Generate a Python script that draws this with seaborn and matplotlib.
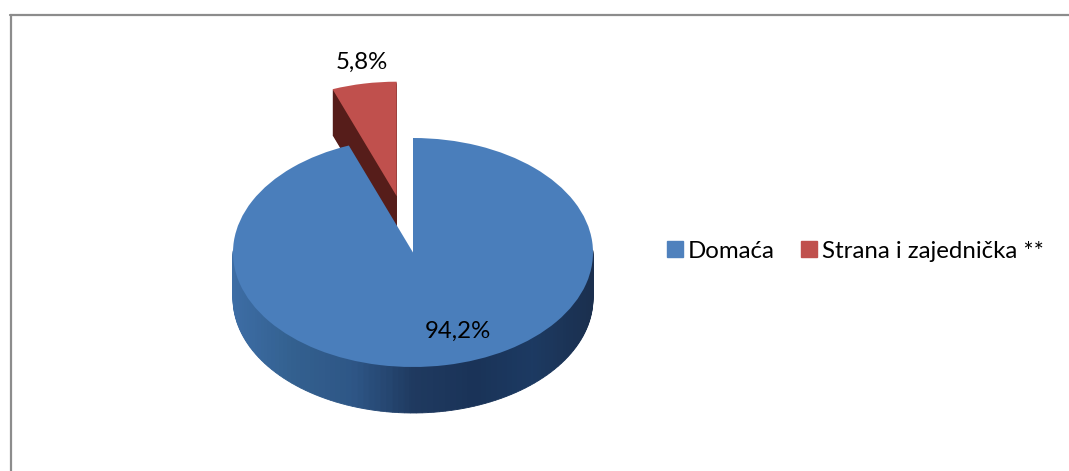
import numpy as np
import matplotlib
matplotlib.use('Agg')
import matplotlib.pyplot as plt
from matplotlib.lines import Line2D
import seaborn as sns

# chart data
categories = ['Domaća', 'Strana i zajednička **']
values = [94.2, 5.8]

W, H = 1069, 471
CX, CY = 413, 252.5      # pie centre in pixels
RX, RY = 180, 114.5      # pie radii in pixels
DEPTH = 46

sns.set_theme(style='white')
plt.rcParams['font.family'] = ['Lato', 'Liberation Sans', 'DejaVu Sans']

colors = sns.color_palette(['#4a7ebb', '#c0504d'])
cut_face = '#561d1a'
rim_colors = sns.blend_palette(['#3d6da5', '#33608f', '#2e5686', '#1f3a60', '#1a3358', '#1c3a62', '#1b2f4e'], 256)

fig = plt.figure(figsize=(W / 100, H / 100), dpi=100)
ax = fig.add_axes([0, 0, 1, 1])

EXPLODE = [0, 0.5]
START = 90

# red slice: the dark cut face is a stack of copies going down
for d in np.arange(DEPTH, 0, -1):
    ax.pie(values, explode=EXPLODE, startangle=START, counterclock=False,
           center=(0, -d / RY), colors=['none', cut_face],
           wedgeprops={'linewidth': 0})

# blue slice: rim split in small pieces so it can carry the shading
n = 180
pieces = [values[0] / n] * n + [values[1]]
angles = np.radians(START - (np.arange(n) + 0.5) / n * 360 * values[0] / sum(values))
idx = ((np.cos(angles) + 1) / 2 * 255).astype(int)
# back half of the rim is hidden anyway
piece_colors = [rim_colors[i] if np.sin(a) < 0.02 else 'none' for i, a in zip(idx, angles)] + ['none']
for d in np.arange(DEPTH, 0, -1):
    rim, _ = ax.pie(pieces, startangle=START, counterclock=False,
                    center=(0, -d / RY), colors=piece_colors,
                    wedgeprops={'linewidth': 0.6})
    for w in rim:
        w.set_edgecolor(w.get_facecolor())

# top surface
wedges, _ = ax.pie(values, explode=EXPLODE, startangle=START, counterclock=False,
                   colors=colors, wedgeprops={'linewidth': 0})

ax.set_aspect('auto')
ax.set_xlim(-CX / RX, (W - CX) / RX)
ax.set_ylim((CY - H) / RY, CY / RY)

# percent labels
def pct(v):
    return f'{v:.1f}%'.replace('.', ',')

fig.text(458 / W, 1 - 331 / H, pct(values[0]), fontsize=17.3, color='black', ha='center', va='center')
fig.text(362 / W, 1 - 62 / H, pct(values[1]), fontsize=17.3, color='black', ha='center', va='center')

# legend
handles = [plt.Rectangle((0, 0), 1, 1, color=c) for c in ['#4f81bd', '#c0504d']]
fig.legend(handles, categories, ncol=2, frameon=False, fontsize=17.3, labelcolor='black',
           loc='center left', bbox_to_anchor=(667 / W, 1 - 251 / H), borderaxespad=0, borderpad=0,
           handlelength=0.67, handleheight=0.67, handletextpad=0.2, columnspacing=1.1)

# chart frame, only left and top show
frame = '#8c8c8c'
fig.add_artist(Line2D([10.5 / W, 10.5 / W], [0, 1 - 15 / H], color=frame, lw=1.6))
fig.add_artist(Line2D([10 / W, 1], [1 - 15 / H, 1 - 15 / H], color=frame, lw=1.6))

fig.savefig('out.png', dpi=100)
